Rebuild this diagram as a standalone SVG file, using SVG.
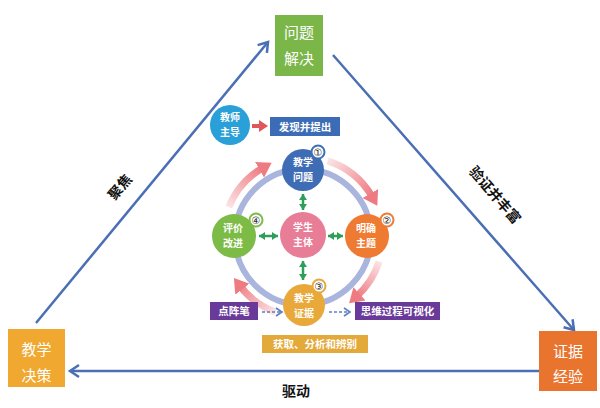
<svg xmlns="http://www.w3.org/2000/svg" width="600" height="408" viewBox="0 0 600 408">
<style>
.t{font-family:"Noto Sans CJK SC","Liberation Sans",sans-serif;fill:#fff;text-anchor:middle}
.big{font-size:15px}
.nd{font-size:10px;font-weight:bold}
.lb{font-size:10.5px;font-weight:bold}
.lbl{font-family:"Noto Sans CJK SC","Liberation Sans",sans-serif;font-size:14px;font-weight:bold;fill:#111;text-anchor:middle}
.tri{stroke:#4a6fb5;stroke-width:2.5;fill:none}
.ga{stroke:#2f9e5a;stroke-width:2.5;fill:none}
.da{stroke:#5b7fc0;stroke-width:1.6;stroke-dasharray:3 2;fill:none}
.badge{fill:#fff;stroke-width:2}
.bn{font-family:"DejaVu Sans","Noto Sans CJK SC",sans-serif;font-size:10px;fill:#222;text-anchor:middle}
</style>
<defs>
<marker id="mt" markerUnits="userSpaceOnUse" markerWidth="16" markerHeight="16" refX="12" refY="8" orient="auto">
<path d="M3,2 L12,8 L3,14" fill="none" stroke="#4a6fb5" stroke-width="2.5"/>
</marker>
<marker id="mg" markerUnits="userSpaceOnUse" markerWidth="8" markerHeight="8" refX="6" refY="4" orient="auto-start-reverse">
<path d="M0,0 L6,4 L0,8 Z" fill="#2f9e5a"/>
</marker>
<marker id="md" markerUnits="userSpaceOnUse" markerWidth="10" markerHeight="10" refX="8" refY="5" orient="auto">
<path d="M2,1 L8,5 L2,9" fill="none" stroke="#5b7fc0" stroke-width="1.6"/>
</marker>
<marker id="mr" markerUnits="userSpaceOnUse" markerWidth="20" markerHeight="20" refX="4" refY="10" orient="auto">
<path d="M0,1 L14,10 L0,19 Z" fill="#ee7a82"/>
</marker>
<marker id="mr2" markerUnits="userSpaceOnUse" markerWidth="12" markerHeight="12" refX="3" refY="6" orient="auto">
<path d="M0,0 L9,6 L0,12 Z" fill="#e0575b"/>
</marker>
<linearGradient id="g1" gradientUnits="userSpaceOnUse" x1="328" y1="161" x2="372" y2="197"><stop offset="0" stop-color="#fbe3e5"/><stop offset="1" stop-color="#ee7a82"/></linearGradient>
<linearGradient id="g2" gradientUnits="userSpaceOnUse" x1="379" y1="262" x2="356" y2="296"><stop offset="0" stop-color="#fbe3e5"/><stop offset="1" stop-color="#ee7a82"/></linearGradient>
<linearGradient id="g3" gradientUnits="userSpaceOnUse" x1="276" y1="312" x2="240" y2="280"><stop offset="0" stop-color="#fbe3e5"/><stop offset="1" stop-color="#ee7a82"/></linearGradient>
<linearGradient id="g4" gradientUnits="userSpaceOnUse" x1="229" y1="207" x2="263" y2="168"><stop offset="0" stop-color="#fbe3e5"/><stop offset="1" stop-color="#ee7a82"/></linearGradient>
</defs>
<rect width="600" height="408" fill="#fff"/>

<g id="connectors">
<line class="tri" x1="36" y1="323" x2="268" y2="42" marker-end="url(#mt)"/>
<line class="tri" x1="333" y1="55" x2="574" y2="330" marker-end="url(#mt)"/>
<line class="tri" x1="539" y1="371" x2="70" y2="371" marker-end="url(#mt)"/>
<circle cx="303" cy="237" r="68" fill="none" stroke="#aab5dd" stroke-width="6"/>
<path d="M327.7,160.9 A80,80 0 0 1 372.3,197" fill="none" stroke="url(#g1)" stroke-width="7" marker-end="url(#mr)"/>
<path d="M379.1,261.7 A80,80 0 0 1 356.5,296.5" fill="none" stroke="url(#g2)" stroke-width="7" marker-end="url(#mr)"/>
<path d="M275.6,312.2 A80,80 0 0 1 240,286" fill="none" stroke="url(#g3)" stroke-width="7" marker-end="url(#mr)"/>
<path d="M228.8,207 A80,80 0 0 1 263,167.7" fill="none" stroke="url(#g4)" stroke-width="7" marker-end="url(#mr)"/>
<line class="ga" x1="303" y1="194" x2="303" y2="210" marker-start="url(#mg)" marker-end="url(#mg)"/>
<line class="ga" x1="303" y1="261" x2="303" y2="280" marker-start="url(#mg)" marker-end="url(#mg)"/>
<line class="ga" x1="259" y1="236" x2="278" y2="236" marker-start="url(#mg)" marker-end="url(#mg)"/>
<line class="ga" x1="328" y1="236" x2="343" y2="236" marker-start="url(#mg)" marker-end="url(#mg)"/>
<line x1="252" y1="126" x2="262" y2="126" stroke="#e0575b" stroke-width="4" marker-end="url(#mr2)"/>
<line class="da" x1="262" y1="312" x2="282" y2="312" marker-end="url(#md)"/>
<line class="da" x1="329" y1="312" x2="350" y2="312" marker-end="url(#md)"/>
</g>

<g id="node-wentijiejue">
<rect x="275" y="15" width="48" height="61" fill="#7ab648"/>
<text class="t big" x="299" y="38">问题</text>
<text class="t big" x="299" y="64">解决</text>
</g>
<g id="node-jiaoxuejuece">
<rect x="8" y="329" width="57" height="58" fill="#f0a830"/>
<text class="t big" x="36.5" y="355">教学</text>
<text class="t big" x="36.5" y="381">决策</text>
</g>
<g id="node-zhengjujingyan">
<rect x="539" y="331" width="58" height="60" fill="#e8742e"/>
<text class="t big" x="568" y="357">证据</text>
<text class="t big" x="568" y="382">经验</text>
</g>

<text class="lbl" transform="translate(120,187) rotate(-50)" y="5">聚焦</text>
<text class="lbl" transform="translate(495,195) rotate(49)" y="5">验证并丰富</text>
<text class="lbl" x="296" y="396">驱动</text>

<g id="node-jiaoshi">
<circle cx="230" cy="125" r="20" fill="#2aa0d8"/>
<text class="t nd" x="230" y="121">教师</text>
<text class="t nd" x="230" y="136">主导</text>
</g>
<g id="node-faxian">
<rect x="270" y="117" width="70" height="19" fill="#3b6cb5"/>
<text class="t lb" x="305" y="130.5">发现并提出</text>
</g>

<g id="node-wenti">
<circle cx="303" cy="170" r="21" fill="#3f6db5"/>
<text class="t nd" x="303" y="166">教学</text>
<text class="t nd" x="303" y="181">问题</text>
<circle class="badge" cx="318" cy="152" r="6.5" stroke="#3f6db5"/>
<text class="bn" x="318" y="155.5">①</text>
</g>
<g id="node-zhuti">
<circle cx="367" cy="236" r="22" fill="#ef7a32"/>
<text class="t nd" x="366" y="232">明确</text>
<text class="t nd" x="366" y="247">主题</text>
<circle class="badge" cx="387" cy="220" r="6.5" stroke="#ef7a32"/>
<text class="bn" x="387" y="223.5">②</text>
</g>
<g id="node-zhengju">
<circle cx="304" cy="305" r="21" fill="#e8a93a"/>
<text class="t nd" x="304" y="302">教学</text>
<text class="t nd" x="304" y="317">证据</text>
<circle class="badge" cx="319" cy="286" r="6.5" stroke="#e8a93a"/>
<text class="bn" x="319" y="289.5">③</text>
</g>
<g id="node-pingjia">
<circle cx="234" cy="236" r="22" fill="#7cbb45"/>
<text class="t nd" x="233" y="232">评价</text>
<text class="t nd" x="233" y="247">改进</text>
<circle class="badge" cx="256" cy="220" r="6.5" stroke="#7cbb45"/>
<text class="bn" x="256" y="223.5">④</text>
</g>
<g id="node-xuesheng">
<circle cx="303" cy="235" r="23" fill="#e87d98"/>
<text class="t nd" x="303" y="231">学生</text>
<text class="t nd" x="303" y="246">主体</text>
</g>

<g id="node-dianzhen">
<rect x="210" y="302" width="48" height="18" fill="#6a3a9a"/>
<text class="t lb" x="234" y="315">点阵笔</text>
</g>
<g id="node-siwei">
<rect x="355" y="302" width="85" height="18" fill="#6a3a9a"/>
<text class="t lb" x="397.5" y="315">思维过程可视化</text>
</g>
<g id="node-huoqu">
<rect x="262" y="335" width="106" height="18" fill="#e3a93a"/>
<text class="t lb" x="315" y="348">获取、分析和辨别</text>
</g>
</svg>
